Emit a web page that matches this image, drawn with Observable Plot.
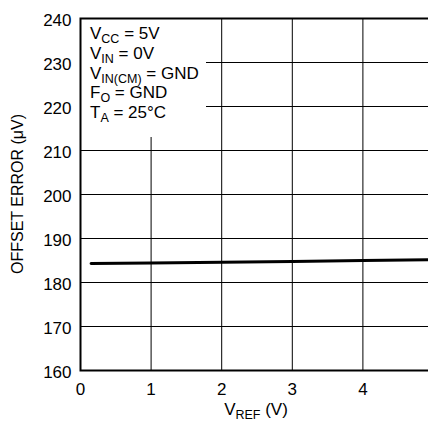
<!DOCTYPE html>
<html><head><meta charset="utf-8">
<script src="https://cdn.jsdelivr.net/npm/d3@7"></script>
<script src="https://cdn.jsdelivr.net/npm/@observablehq/plot@0.6"></script>
<style>
body{margin:0;background:#fff}
svg{font-family:"Liberation Sans",Arial,sans-serif}
</style>
</head><body><div id="chart"></div>
<script>
// Data
const vref = [0.15, 1, 2, 3, 4, 5];
const offsetError = [184.3, 184.45, 184.6, 184.8, 185.0, 185.2];
const xTicks = [0, 1, 2, 3, 4];
const xGrid = [1, 2, 3, 4];
const yTicks = [160, 170, 180, 190, 200, 210, 220, 230, 240];
const yGrid = [170, 180, 190, 200, 210, 220, 230];
const xLabel = [["V", ""], ["REF", "sub"], [" (V)", ""]];
const yLabel = "OFFSET ERROR (\u03BCV)";
const legendLines = [
  [["V", ""], ["CC", "sub"], [" = 5V", ""]],
  [["V", ""], ["IN", "sub"], [" = 0V", ""]],
  [["V", ""], ["IN(CM)", "sub"], [" = GND", ""]],
  [["F", ""], ["O", "sub"], [" = GND", ""]],
  [["T", ""], ["A", "sub"], [" = 25\u00B0C", ""]]
];

const data = vref.map((v, i) => ({vref: v, err: offsetError[i]}));

const W = 428, H = 426, mL = 80, mR = -5, mT = 18, mB = 56;

const plot = Plot.plot({
  width: W, height: H,
  marginLeft: mL, marginRight: mR, marginTop: mT, marginBottom: mB,
  style: {fontSize: "17px", fontFamily: "'Liberation Sans', Arial, sans-serif", color: "#000", background: "#fff"},
  x: {domain: [0, 5]},
  y: {domain: [160, 240]},
  marks: [
    Plot.gridX(xGrid, {stroke: "#000", strokeOpacity: 1, strokeWidth: 1}),
    Plot.gridY(yGrid, {stroke: "#000", strokeOpacity: 1, strokeWidth: 1}),
    Plot.line(data, {x: "vref", y: "err", stroke: "#000", strokeWidth: 3}),
    Plot.frame({stroke: "#000", strokeWidth: 2}),
    Plot.axisX(xTicks, {tickSize: 0, tickPadding: 12, label: null, fontSize: 17}),
    Plot.axisY(yTicks, {tickSize: 0, tickPadding: 9, label: null, fontSize: 17, dy: 2})
  ]
});
document.getElementById("chart").appendChild(plot);

const svg = d3.select(plot);

// White legend box over the grid (inserted before the line/frame)
const lineNode = svg.selectAll("[aria-label=line]").node();
const box = document.createElementNS("http://www.w3.org/2000/svg", "rect");
box.setAttribute("x", mL + 1);
box.setAttribute("y", mT + 1);
box.setAttribute("width", 125);
box.setAttribute("height", 118);
box.setAttribute("fill", "#fff");
plot.insertBefore(box, lineNode);

function rich(g, parts, x, y, anchor) {
  const t = g.append("text").attr("x", x).attr("y", y).attr("text-anchor", anchor || "start")
    .attr("font-size", 17).attr("fill", "#000");
  parts.forEach(([s, kind]) => {
    if (kind === "sub") t.append("tspan").attr("font-size", 12.5).attr("dy", 4).text(s);
    else t.append("tspan").attr("dy", t.selectAll("tspan").size() ? -4 : 0).text(s);
  });
  return t;
}

const lg = svg.append("g");
legendLines.forEach((ln, i) => rich(lg, ln, mL + 10, 43 + i * 19.8));

// x axis label
rich(svg.append("g"), xLabel, 256, 419, "middle");

// y axis label
svg.append("text")
  .attr("transform", `translate(23,${(mT + H - mB) / 2}) rotate(-90)`)
  .attr("text-anchor", "middle").attr("font-size", 16).attr("fill", "#000")
  .text(yLabel);
</script>
</body></html>
